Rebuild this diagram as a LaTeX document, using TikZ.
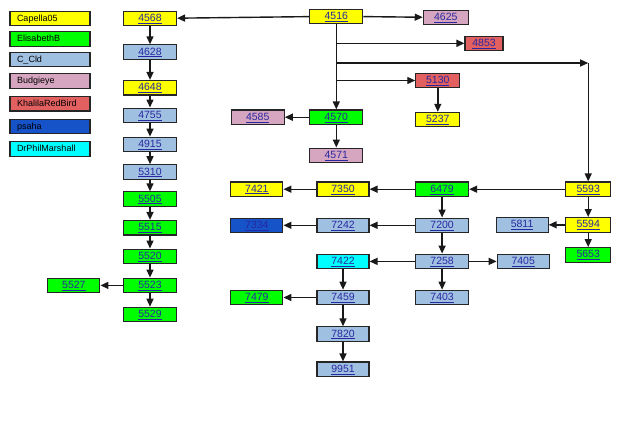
\documentclass[tikz,border=0pt]{standalone}
\usepackage{fontspec}
\setmainfont{Liberation Sans}
\usetikzlibrary{positioning,arrows.meta}

\definecolor{capella}{RGB}{255,255,0}
\definecolor{elisabeth}{RGB}{0,255,0}
\definecolor{ccld}{RGB}{160,192,226}
\definecolor{budgie}{RGB}{214,166,192}
\definecolor{khalila}{RGB}{226,96,96}
\definecolor{psaha}{RGB}{22,82,200}
\definecolor{drphil}{RGB}{0,255,255}
\definecolor{linkc}{RGB}{40,40,160}

\newcommand{\lnk}[1]{\underline{#1}}

\tikzset{
	usr/.style={draw=black!85, line width=1.1pt, minimum width=53pt, minimum height=14.5pt,
		inner sep=0pt, text height=7.5pt, text depth=1.5pt, text=linkc,
		font=\fontsize{10.5}{12}\selectfont},
	key/.style={draw=black!85, line width=1.1pt, minimum height=14.5pt, inner ysep=0pt,
		inner xsep=7pt, text width=66pt, align=left, text height=7pt, text depth=1.5pt,
		font=\fontsize{9}{11}\selectfont},
	arr/.style={-{Triangle[length=8pt,width=7pt]}, line width=1.4pt, black!90},
}

\begin{document}
\begin{tikzpicture}[x=1pt,y=1pt]
	\useasboundingbox (0,0) rectangle (640,-431);
	
	% legend
	\node[key, fill=capella] (kcap) at (50,-18.3) {Capella05};
	\node[key, fill=elisabeth, below=5pt of kcap] (keli) {ElisabethB};
	\node[key, fill=ccld, below=5pt of keli] (kcld) {C\_Cld};
	\node[key, fill=budgie, below=6pt of kcld] (kbud) {Budgieye};
	\node[key, fill=khalila, below=7pt of kbud] (kkha) {KhalilaRedBird};
	\node[key, fill=psaha, below=7pt of kkha] (kpsa) {psaha};
	\node[key, fill=drphil, below=7pt of kpsa] (kdrp) {DrPhilMarshall};
	
	% left column
	\node[usr, fill=capella] (n4568) at (150,-18.5) {\lnk{4568}};
	\node[usr, fill=ccld, below=18pt of n4568] (n4628) {\lnk{4628}};
	\node[usr, fill=capella, below=20pt of n4628] (n4648) {\lnk{4648}};
	\node[usr, fill=ccld, below=12pt of n4648] (n4755) {\lnk{4755}};
	\node[usr, fill=ccld, below=13.5pt of n4755] (n4915) {\lnk{4915}};
	\node[usr, fill=ccld, below=12pt of n4915] (n5310) {\lnk{5310}};
	\node[usr, fill=elisabeth, below=11.5pt of n5310] (n5505) {\lnk{5505}};
	\node[usr, fill=elisabeth, below=13pt of n5505] (n5515) {\lnk{5515}};
	\node[usr, fill=elisabeth, below=13pt of n5515] (n5520) {\lnk{5520}};
	\node[usr, fill=elisabeth, below=13.5pt of n5520] (n5523) {\lnk{5523}};
	\node[usr, fill=elisabeth, below=13.5pt of n5523] (n5529) {\lnk{5529}};
	\node[usr, fill=elisabeth, minimum width=52pt, left=22.5pt of n5523] (n5527) {\lnk{5527}};
	
	% upper right
	\node[usr, fill=capella] (n4516) at (336.3,-16.3) {\lnk{4516}};
	\node[usr, fill=budgie, minimum width=45pt] (n4625) at (445.8,-17.5) {\lnk{4625}};
	\node[usr, fill=khalila, minimum width=38pt] (n4853) at (484,-43.3) {\lnk{4853}};
	\node[usr, fill=khalila, minimum width=44pt] (n5130) at (437.8,-80.5) {\lnk{5130}};
	\node[usr, fill=capella, minimum width=44pt, below=23.5pt of n5130] (n5237) {\lnk{5237}};
	\node[usr, fill=elisabeth] (n4570) at (336.3,-117.2) {\lnk{4570}};
	\node[usr, fill=budgie, left=24.5pt of n4570] (n4585) {\lnk{4585}};
	\node[usr, fill=budgie, below=22.5pt of n4570] (n4571) {\lnk{4571}};
	
	% lower right
	\node[usr, fill=capella, minimum width=45pt] (n5593) at (588.2,-189.2) {\lnk{5593}};
	\node[usr, fill=elisabeth, left=96pt of n5593] (n6479) {\lnk{6479}};
	\node[usr, fill=capella, minimum width=52pt, left=45.5pt of n6479] (n7350) {\lnk{7350}};
	\node[usr, fill=capella, minimum width=52pt, left=33pt of n7350] (n7421) {\lnk{7421}};
	\node[usr, fill=capella, minimum width=45pt, below=20pt of n5593] (n5594) {\lnk{5594}};
	\node[usr, fill=ccld, minimum width=52pt, left=16.5pt of n5594] (n5811) {\lnk{5811}};
	\node[usr, fill=elisabeth, minimum width=45pt, below=14.5pt of n5594] (n5653) {\lnk{5653}};
	\node[usr, fill=ccld, below=20.5pt of n6479] (n7200) {\lnk{7200}};
	\node[usr, fill=ccld, minimum width=52pt, left=45.5pt of n7200] (n7242) {\lnk{7242}};
	\node[usr, fill=psaha, minimum width=52pt, left=33pt of n7242] (n7334) {\lnk{7334}};
	\node[usr, fill=ccld, below=20.5pt of n7200] (n7258) {\lnk{7258}};
	\node[usr, fill=drphil, minimum width=52pt, left=45.5pt of n7258] (n7422) {\lnk{7422}};
	\node[usr, fill=ccld, minimum width=52pt, right=27.5pt of n7258] (n7405) {\lnk{7405}};
	\node[usr, fill=ccld, below=20.5pt of n7258] (n7403) {\lnk{7403}};
	\node[usr, fill=ccld, minimum width=52pt, below=20.5pt of n7422] (n7459) {\lnk{7459}};
	\node[usr, fill=elisabeth, minimum width=52pt, left=33pt of n7459] (n7479) {\lnk{7479}};
	\node[usr, fill=ccld, minimum width=52pt, below=21pt of n7459] (n7820) {\lnk{7820}};
	\node[usr, fill=ccld, minimum width=52pt, below=19.5pt of n7820] (n9951) {\lnk{9951}};
	
	% branch points on the trunk below 4516
	\coordinate (j4853) at (n4516 |- n4853);
	\coordinate (j5593) at (336.3,-63);
	\coordinate (j5130) at (n4516 |- n5130);
	\coordinate (c5593) at (n5593 |- j5593);
	
	\path[arr]
		(n4516) edge (n4568)
		(n4568) edge (n4628)
		(n4628) edge (n4648)
		(n4648) edge (n4755)
		(n4755) edge (n4915)
		(n4915) edge (n5310)
		(n5310) edge (n5505)
		(n5505) edge (n5515)
		(n5515) edge (n5520)
		(n5520) edge (n5523)
		(n5523) edge (n5529)
		(n5523) edge (n5527)
		(n4516) edge (n4625)
		(n4516) edge (n4570)
		(j4853) edge (n4853)
		(j5593) edge (c5593)
		(c5593) edge (n5593)
		(j5130) edge (n5130)
		(n5130) edge (n5237)
		(n4570) edge (n4585)
		(n4570) edge (n4571)
		(n5593) edge (n6479)
		(n6479) edge (n7350)
		(n7350) edge (n7421)
		(n5593) edge (n5594)
		(n5594) edge (n5811)
		(n5594) edge (n5653)
		(n6479) edge (n7200)
		(n7200) edge (n7242)
		(n7242) edge (n7334)
		(n7200) edge (n7258)
		(n7258) edge (n7422)
		(n7258) edge (n7405)
		(n7258) edge (n7403)
		(n7422) edge (n7459)
		(n7459) edge (n7479)
		(n7459) edge (n7820)
		(n7820) edge (n9951);
\end{tikzpicture}
\end{document}
